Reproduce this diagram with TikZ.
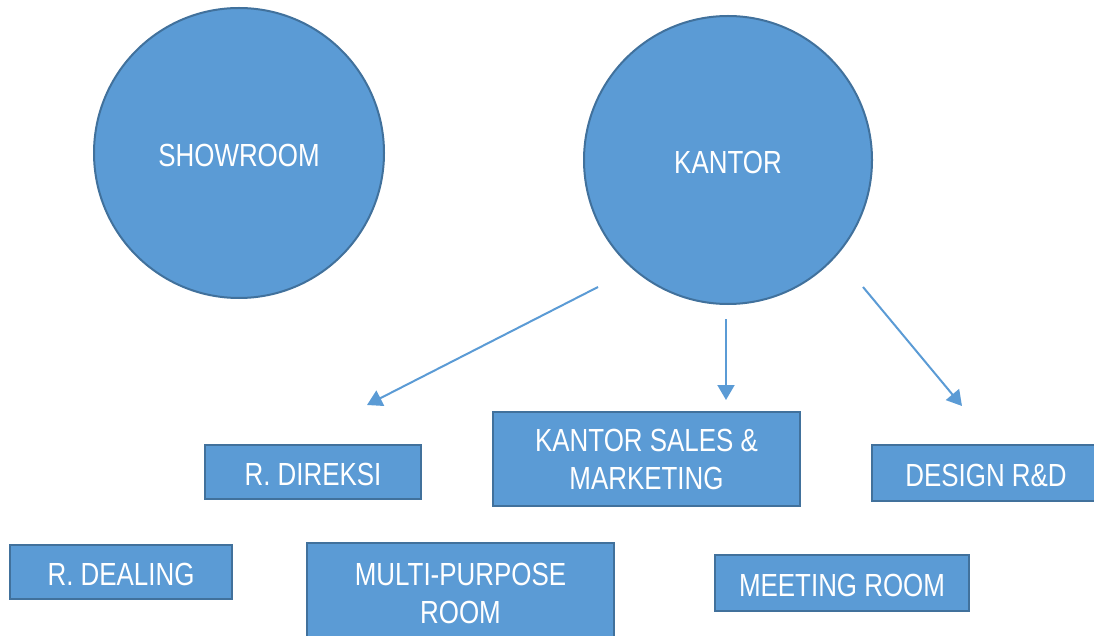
\documentclass[tikz,border=0pt]{standalone}
\usepackage{fontspec}
\setmainfont{Liberation Sans}[FakeStretch=0.81]
\usetikzlibrary{arrows.meta}
\definecolor{zonefill}{HTML}{5B9BD5}
\definecolor{zoneline}{HTML}{41719C}

\begin{document}
\begin{tikzpicture}[x=1pt,y=-1pt,
    zone node/.style={circle,draw=zoneline,fill=zonefill,line width=2pt,
      text=white,inner sep=0pt,text height=27pt,font=\fontsize{32}{38}\selectfont},
    room node/.style={rectangle,draw=zoneline,fill=zonefill,line width=2.5pt,
      text=white,inner sep=0pt,align=center,font=\fontsize{32}{38}\selectfont},
    one line/.style={text height=28pt},
    arrow line/.style={color=zonefill,line width=2pt,
      -{Triangle[length=15pt,width=17pt]}}]
    \clip (0,0) rectangle (1094,636);
    \node[zone node,minimum size=290pt] (showroom) at (239,153) {SHOWROOM};
    \node[zone node,minimum size=288pt] (kantor) at (728,160) {KANTOR};
    \node[room node,one line,minimum width=216pt,minimum height=54pt] (direksi) at (313,472) {R. DIREKSI};
    \node[room node,minimum width=307pt,minimum height=94pt] (sales) at (646.5,459) {KANTOR SALES \&\\MARKETING};
    \node[room node,one line,minimum width=228pt,minimum height=56pt] (design) at (986,473) {DESIGN R\&D};
    \node[room node,one line,minimum width=222pt,minimum height=54pt] (dealing) at (121,572) {R. DEALING};
    \node[room node,minimum width=307pt,minimum height=100pt] (multi) at (460.5,593) {MULTI-PURPOSE\\ROOM};
    \node[room node,one line,minimum width=254pt,minimum height=56pt] (meeting) at (842,583) {MEETING ROOM};
    % free ends of the arrows
    \coordinate (k1) at (598,287);
    \coordinate (k2) at (726,319);
    \coordinate (k3) at (863,287);
    \coordinate (t1) at (367,405);
    \coordinate (t2) at (726,400);
    \coordinate (t3) at (962,406);
    \path
    (k1) edge [arrow line] (t1)
    (k2) edge [arrow line] (t2)
    (k3) edge [arrow line] (t3);
\end{tikzpicture}
\end{document}
